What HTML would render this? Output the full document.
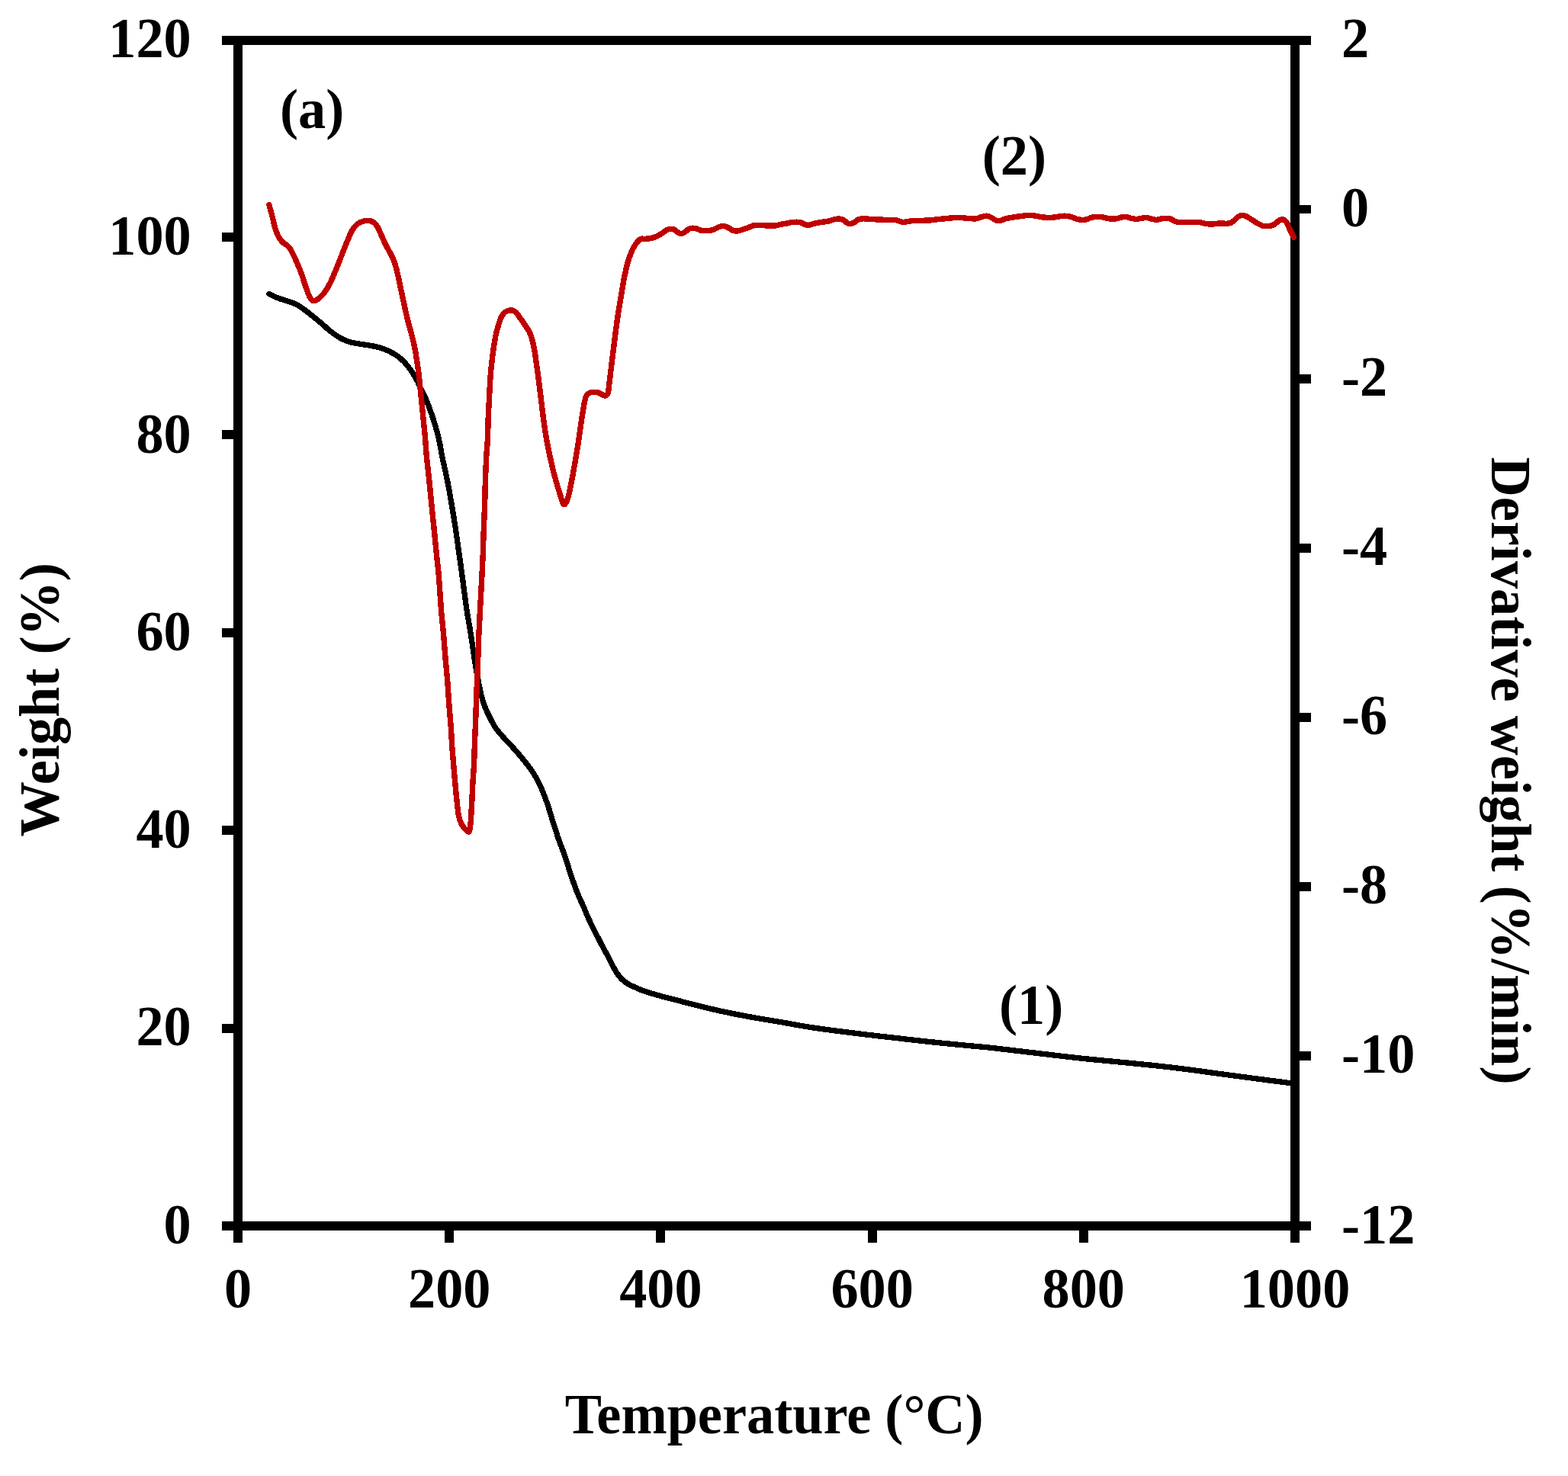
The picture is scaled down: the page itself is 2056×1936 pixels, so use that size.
<!DOCTYPE html>
<html lang="en">
<head>
<meta charset="utf-8">
<title>TGA and DTG curves</title>
<style>
html,body{margin:0;padding:0;background:#fff;}
body{width:2056px;height:1936px;overflow:hidden;}
svg{display:block;}
text{font-family:"Liberation Serif","DejaVu Serif",serif;font-weight:bold;font-kerning:normal;font-size:72.3px;fill:#000;}
.c1{stroke:#000;stroke-width:7.3;fill:none;stroke-linejoin:round;stroke-linecap:round;}
.c2{stroke:#c00000;stroke-width:7.4;fill:none;stroke-linejoin:round;stroke-linecap:round;}
</style>
</head>
<body>
<svg width="2056" height="1936" viewBox="0 0 2056 1936">
<rect x="0" y="0" width="2056" height="1936" fill="#ffffff"/>
<g fill="#000" shape-rendering="crispEdges">
<rect x="291" y="47" width="1428" height="12"/>
<rect x="291" y="1602" width="1428" height="12"/>
<rect x="306" y="47" width="12" height="1583"/>
<rect x="1692" y="47" width="12" height="1583"/>
<rect x="291" y="305" width="21" height="12"/>
<rect x="291" y="564" width="21" height="12"/>
<rect x="291" y="824" width="21" height="12"/>
<rect x="291" y="1083" width="21" height="12"/>
<rect x="291" y="1343" width="21" height="12"/>
<rect x="1698" y="269" width="21" height="11"/>
<rect x="1698" y="491" width="21" height="12"/>
<rect x="1698" y="713" width="21" height="12"/>
<rect x="1698" y="935" width="21" height="12"/>
<rect x="1698" y="1157" width="21" height="12"/>
<rect x="1698" y="1379" width="21" height="12"/>
<rect x="583" y="1608" width="12" height="22"/>
<rect x="860" y="1608" width="12" height="22"/>
<rect x="1138" y="1608" width="12" height="22"/>
<rect x="1415" y="1608" width="12" height="22"/>
</g>
<g shape-rendering="crispEdges">
<path class="c1" d="M352.9 385.5C354.5 386.3 359.4 388.9 362.7 390.3C366.0 391.7 369.4 392.6 372.8 393.7C376.2 394.8 379.9 395.8 382.8 396.9C385.7 398.0 387.9 398.9 390.4 400.3C392.9 401.7 395.4 403.6 397.9 405.4C400.4 407.2 402.6 408.7 405.5 411.0C408.4 413.3 412.1 416.4 415.5 419.2C418.9 422.0 422.8 425.3 425.6 427.8C428.5 430.3 429.3 431.5 432.6 434.0C435.9 436.5 441.0 440.4 445.2 442.8C449.4 445.2 453.5 447.0 457.7 448.4C461.9 449.8 466.1 450.2 470.3 450.9C474.5 451.6 478.7 452.1 482.9 452.8C487.1 453.5 491.3 454.2 495.5 455.3C499.7 456.4 503.8 457.8 508.0 459.7C512.2 461.6 516.8 464.1 520.6 466.7C524.4 469.3 527.6 472.1 530.7 475.5C533.9 478.9 536.8 482.8 539.5 486.8C542.2 490.8 544.9 495.3 547.0 499.3C549.1 503.3 550.5 506.7 552.4 510.7C554.3 514.7 556.5 519.0 558.3 523.2C560.1 527.4 561.6 531.2 563.3 535.8C565.0 540.4 566.8 545.6 568.5 550.9C570.2 556.1 571.9 562.1 573.3 567.3C574.7 572.5 575.7 576.8 576.8 582.3C577.9 587.8 578.3 591.8 580.0 600.0C581.7 608.2 584.7 620.9 586.8 631.4C588.9 641.9 590.6 652.4 592.4 662.9C594.2 673.4 595.9 683.8 597.5 694.3C599.1 704.8 600.4 715.3 601.9 725.8C603.4 736.3 604.6 744.8 606.3 757.2C608.0 769.6 610.3 788.7 612.0 800.0C613.7 811.3 614.9 816.8 616.3 825.2C617.6 833.6 618.8 841.9 620.1 850.3C621.4 858.7 622.6 868.0 623.9 875.5C625.1 883.0 626.4 889.3 627.6 895.6C628.9 901.9 630.0 908.0 631.4 913.2C632.8 918.4 634.0 922.4 635.8 927.0C637.6 931.6 639.7 936.1 642.1 940.8C644.5 945.5 647.0 950.6 650.0 955.0C653.0 959.4 656.8 963.3 660.1 967.1C663.5 970.9 666.8 974.0 670.1 977.7C673.5 981.4 676.9 985.3 680.2 989.2C683.6 993.1 687.2 997.4 690.2 1001.3C693.2 1005.2 695.8 1008.5 698.3 1012.4C700.8 1016.2 703.1 1020.2 705.3 1024.4C707.5 1028.6 709.5 1033.1 711.4 1037.5C713.2 1041.9 714.9 1046.4 716.4 1050.6C717.9 1054.8 719.1 1058.5 720.4 1062.7C721.7 1066.9 723.0 1071.5 724.4 1075.8C725.8 1080.1 727.1 1084.6 728.5 1088.8C729.9 1093.0 730.5 1095.3 732.5 1100.9C734.5 1106.5 738.3 1116.0 740.5 1122.2C742.7 1128.4 743.9 1133.1 745.6 1138.3C747.3 1143.5 748.9 1148.5 750.6 1153.4C752.3 1158.3 753.9 1163.2 755.6 1167.5C757.3 1171.8 759.0 1175.7 760.7 1179.5C762.4 1183.3 764.2 1187.1 765.7 1190.6C767.2 1194.1 768.4 1197.3 769.9 1200.7C771.4 1204.1 772.9 1207.4 774.5 1210.7C776.1 1214.0 777.7 1217.5 779.4 1220.8C781.1 1224.1 782.9 1227.4 784.6 1230.8C786.3 1234.2 787.5 1236.5 789.8 1240.9C792.1 1245.3 796.1 1252.2 798.6 1257.0C801.1 1261.8 803.2 1266.2 805.0 1269.6C806.8 1272.9 807.6 1274.6 809.4 1277.1C811.2 1279.6 813.4 1282.5 815.7 1284.7C818.0 1286.9 820.5 1288.6 823.2 1290.3C825.9 1292.0 828.4 1293.1 832.0 1294.7C835.6 1296.3 839.4 1298.2 844.6 1300.0C849.9 1301.8 856.2 1303.7 863.5 1305.7C870.8 1307.7 882.5 1310.6 888.6 1312.2C894.7 1313.8 891.4 1313.1 900.0 1315.2C908.6 1317.3 926.8 1322.1 940.2 1325.1C953.6 1328.1 967.1 1330.8 980.5 1333.3C993.9 1335.8 1007.3 1337.8 1020.7 1340.1C1034.1 1342.4 1047.6 1345.1 1061.0 1347.2C1074.4 1349.3 1087.8 1351.0 1101.2 1352.7C1114.6 1354.5 1128.0 1356.1 1141.4 1357.7C1154.8 1359.3 1168.3 1360.8 1181.7 1362.3C1195.1 1363.8 1208.5 1365.4 1221.9 1366.8C1235.3 1368.2 1249.2 1369.5 1262.2 1370.8C1275.2 1372.1 1283.6 1372.6 1300.0 1374.4C1316.4 1376.2 1340.3 1379.2 1360.4 1381.5C1380.5 1383.8 1400.6 1386.4 1420.7 1388.5C1440.8 1390.6 1461.0 1392.3 1481.1 1394.3C1501.2 1396.3 1521.3 1398.3 1541.4 1400.7C1561.5 1403.1 1581.7 1406.1 1601.8 1408.8C1621.9 1411.5 1647.1 1414.8 1662.2 1416.8C1677.3 1418.8 1686.6 1420.0 1692.4 1420.7C1698.2 1421.5 1696.2 1421.2 1697.0 1421.3"/>
<path class="c2" d="M352.9 268.7C353.6 271.2 355.7 278.9 357.0 284.0C358.3 289.1 359.4 294.7 360.8 299.1C362.2 303.5 363.6 307.4 365.2 310.4C366.8 313.4 368.0 315.1 370.2 317.3C372.4 319.5 376.1 321.0 378.4 323.6C380.7 326.2 382.1 329.2 384.1 333.1C386.1 337.0 388.5 342.5 390.4 346.9C392.3 351.3 393.7 354.9 395.4 359.5C397.1 364.1 398.7 369.8 400.4 374.6C402.1 379.4 404.0 385.2 405.5 388.4C407.0 391.6 407.9 392.7 409.2 393.7C410.4 394.7 411.5 394.8 413.0 394.4C414.5 394.0 415.9 393.3 418.0 391.5C420.1 389.7 423.1 386.8 425.6 383.4C428.1 379.9 430.6 375.8 433.1 370.8C435.6 365.8 438.2 359.3 440.7 353.2C443.2 347.1 445.7 340.6 448.2 334.3C450.7 328.0 453.4 320.9 455.7 315.5C458.0 310.1 459.9 305.2 462.0 301.6C464.1 298.0 466.0 296.0 468.3 294.1C470.6 292.2 473.4 291.1 475.9 290.3C478.4 289.5 481.1 289.2 483.4 289.4C485.7 289.6 487.8 290.3 489.7 291.6C491.6 292.9 493.0 294.5 494.7 297.2C496.4 299.9 497.9 303.8 499.8 307.9C501.7 312.0 504.0 317.5 506.1 321.7C508.2 325.9 510.4 329.3 512.3 333.1C514.2 336.9 515.9 340.2 517.4 344.4C518.9 348.6 519.9 353.0 521.1 358.2C522.4 363.4 523.6 369.9 524.9 375.8C526.2 381.7 527.4 387.5 528.7 393.4C530.0 399.3 531.2 405.6 532.5 411.0C533.8 416.4 535.0 421.7 536.2 426.1C537.4 430.6 538.2 432.6 539.5 437.7C540.8 442.8 542.6 450.3 543.9 456.6C545.1 462.9 546.1 469.2 547.0 475.5C547.9 481.8 548.8 488.0 549.5 494.3C550.2 500.6 550.8 506.9 551.4 513.2C552.0 519.5 552.7 525.7 553.3 532.0C553.9 538.3 554.6 544.6 555.2 550.9C555.8 557.2 556.6 564.1 557.1 569.8C557.6 575.5 557.9 579.9 558.3 584.9C558.7 589.9 558.7 592.2 559.5 600.0C560.3 607.8 561.8 620.9 562.9 631.4C564.0 641.9 565.0 652.4 566.0 662.9C567.0 673.4 568.2 683.8 569.2 694.3C570.2 704.8 571.2 715.3 572.3 725.8C573.3 736.3 574.5 744.8 575.5 757.2C576.5 769.6 577.5 787.6 578.5 800.0C579.5 812.4 580.6 820.9 581.5 831.4C582.4 841.9 583.1 852.4 584.0 862.9C584.9 873.4 586.0 883.8 586.8 894.3C587.6 904.8 588.2 915.3 589.0 925.8C589.8 936.3 590.9 948.2 591.5 957.2C592.1 966.2 592.2 972.0 592.8 980.0C593.4 988.0 594.2 996.8 594.9 1005.2C595.6 1013.6 596.4 1022.3 597.1 1030.3C597.8 1038.2 598.5 1046.2 599.3 1052.9C600.0 1059.6 600.6 1065.9 601.6 1070.5C602.6 1075.1 603.7 1077.9 605.0 1080.6C606.3 1083.3 608.0 1085.3 609.4 1086.9C610.8 1088.5 612.2 1089.8 613.2 1090.4C614.2 1091.0 614.9 1091.9 615.5 1090.3C616.1 1088.7 616.5 1085.4 617.0 1080.6C617.5 1075.8 617.8 1068.0 618.2 1061.7C618.6 1055.4 618.9 1049.2 619.2 1042.9C619.5 1036.6 619.7 1030.3 620.1 1024.0C620.5 1017.7 621.0 1012.5 621.4 1005.2C621.8 997.9 622.0 987.0 622.3 980.0C622.5 973.0 622.6 970.5 622.9 963.5C623.2 956.5 623.6 946.7 623.9 938.3C624.2 929.9 624.4 921.6 624.7 913.2C625.0 904.8 625.4 896.4 625.8 888.0C626.1 879.6 626.5 871.3 626.8 862.9C627.1 854.5 627.2 846.1 627.6 837.7C628.0 829.3 628.6 818.9 628.9 812.6C629.2 806.3 629.0 809.2 629.5 800.0C630.0 790.8 631.2 769.6 631.8 757.2C632.4 744.8 632.9 736.3 633.3 725.8C633.7 715.3 633.9 704.8 634.3 694.3C634.7 683.8 635.2 673.4 635.6 662.9C636.0 652.4 636.0 641.9 636.4 631.4C636.8 620.9 637.2 609.2 637.7 600.0C638.2 590.8 639.0 584.3 639.4 576.1C639.8 567.9 639.8 558.9 640.1 550.9C640.4 542.9 640.7 537.6 641.2 528.0C641.7 518.4 642.4 503.2 643.1 493.2C643.9 483.2 644.7 476.4 645.7 468.0C646.8 459.6 648.1 449.6 649.4 442.9C650.6 436.2 651.9 432.2 653.2 427.8C654.5 423.4 655.6 419.4 657.0 416.5C658.4 413.6 659.8 411.7 661.4 410.2C663.0 408.7 664.7 407.9 666.4 407.4C668.1 406.9 669.7 406.6 671.4 407.0C673.1 407.4 674.8 408.0 676.5 409.6C678.2 411.2 679.6 413.9 681.5 416.5C683.4 419.1 685.7 422.2 687.8 425.3C689.9 428.4 692.4 432.0 694.1 435.3C695.8 438.6 696.6 441.2 697.8 445.4C698.9 449.6 700.0 455.1 701.0 460.5C702.0 465.9 702.7 472.2 703.5 478.1C704.3 484.0 705.2 489.4 706.0 495.7C706.8 502.0 707.6 508.4 708.5 515.8C709.4 523.2 710.5 532.7 711.4 540.1C712.3 547.5 713.1 553.5 714.1 560.2C715.1 566.9 716.2 573.7 717.4 580.4C718.6 587.1 720.0 593.8 721.5 600.5C723.0 607.2 724.6 614.4 726.2 620.6C727.8 626.8 729.6 632.8 731.0 637.7C732.4 642.6 733.8 646.4 734.8 649.8C735.8 653.1 736.5 655.8 737.3 657.8C738.1 659.8 738.6 661.3 739.4 661.6C740.2 661.9 741.0 661.3 741.9 659.8C742.8 658.3 743.8 656.0 744.8 652.8C745.8 649.6 746.7 645.1 747.6 640.7C748.5 636.3 749.5 631.6 750.4 626.6C751.3 621.6 752.3 616.2 753.3 610.5C754.3 604.8 755.5 598.1 756.4 592.4C757.3 586.7 758.1 581.7 758.9 576.3C759.7 570.9 760.5 565.4 761.2 560.2C762.0 555.0 762.7 549.7 763.4 545.2C764.1 540.7 764.8 536.2 765.4 533.0C766.0 529.8 766.3 528.1 766.8 525.9C767.3 523.7 767.8 521.2 768.6 519.6C769.4 518.0 770.4 517.1 771.5 516.2C772.6 515.4 774.0 514.8 775.5 514.5C777.0 514.2 779.0 514.2 780.4 514.2C781.8 514.2 782.8 514.4 784.0 514.8C785.2 515.2 786.4 516.0 787.6 516.6C788.8 517.2 790.1 518.0 791.2 518.4C792.3 518.8 793.1 519.2 794.0 519.0C794.9 518.8 795.9 518.4 796.5 517.3C797.1 516.1 797.5 514.5 797.9 512.1C798.3 509.8 798.3 508.4 798.9 503.2C799.5 497.9 800.6 488.6 801.6 480.6C802.6 472.7 803.7 463.9 804.7 455.5C805.8 447.1 806.9 438.1 807.9 430.3C808.9 422.5 809.9 415.7 811.0 408.5C812.1 401.3 813.5 393.9 814.6 387.2C815.7 380.5 816.7 374.0 817.7 368.3C818.8 362.6 819.8 358.0 820.9 353.2C822.0 348.4 823.2 343.6 824.6 339.4C826.0 335.2 827.4 331.5 829.0 328.1C830.6 324.8 832.3 321.7 834.1 319.3C835.9 316.9 837.8 314.6 839.7 313.6C841.6 312.6 843.2 313.5 845.4 313.3C847.6 313.1 850.4 313.2 852.9 312.7C855.4 312.2 858.0 311.3 860.5 310.2C863.0 309.1 865.7 307.5 868.0 306.1C870.3 304.7 872.4 302.6 874.3 301.7C876.2 300.8 877.7 300.5 879.3 300.4C880.9 300.3 882.1 300.4 883.7 301.1C885.3 301.8 887.2 303.9 888.8 304.8C890.4 305.7 891.6 306.6 893.2 306.5C894.8 306.4 896.5 305.2 898.2 304.2C899.9 303.2 901.5 301.2 903.2 300.4C904.9 299.6 906.6 299.3 908.3 299.2C910.0 299.1 911.4 299.5 913.3 300.0C915.2 300.5 917.1 301.9 919.6 302.3C922.1 302.7 925.7 302.8 928.4 302.6C931.1 302.4 933.6 301.9 935.9 301.1C938.2 300.3 940.1 298.7 942.2 297.9C944.3 297.1 946.4 296.3 948.5 296.4C950.6 296.5 952.7 297.5 954.8 298.5C956.9 299.5 959.0 301.6 961.1 302.3C963.2 303.0 965.3 303.1 967.4 302.9C969.5 302.7 971.4 301.8 973.7 301.1C976.0 300.4 978.7 299.4 981.2 298.5C983.7 297.6 986.3 296.1 988.8 295.6C991.3 295.1 993.4 295.3 996.3 295.4C999.2 295.5 1003.0 295.9 1006.4 296.0C1009.8 296.1 1013.5 296.3 1016.4 296.0C1019.3 295.7 1021.7 294.8 1024.0 294.3C1026.3 293.9 1027.6 293.8 1030.1 293.3C1032.6 292.8 1035.8 291.8 1038.9 291.5C1042.0 291.2 1046.2 291.0 1048.9 291.5C1051.6 292.0 1053.3 293.7 1055.2 294.3C1057.1 294.9 1058.1 295.5 1060.2 295.3C1062.3 295.1 1065.1 293.8 1067.8 293.1C1070.5 292.5 1073.7 291.9 1076.6 291.4C1079.5 290.9 1082.5 290.9 1085.4 290.3C1088.3 289.7 1091.5 288.2 1094.2 287.7C1096.9 287.2 1099.6 286.8 1101.7 287.1C1103.8 287.4 1105.2 288.4 1106.8 289.3C1108.4 290.2 1109.7 292.1 1111.2 292.8C1112.7 293.5 1114.0 293.5 1115.6 293.3C1117.2 293.1 1118.9 292.4 1120.6 291.5C1122.3 290.6 1123.7 288.6 1125.6 287.8C1127.5 287.0 1129.4 286.9 1131.9 286.8C1134.4 286.7 1137.4 287.2 1140.7 287.4C1144.0 287.6 1148.0 287.8 1152.0 288.0C1156.0 288.2 1160.8 288.3 1164.6 288.4C1168.4 288.5 1172.2 288.4 1174.7 288.7C1177.2 289.0 1178.0 289.9 1179.7 290.3C1181.4 290.8 1182.8 291.4 1184.7 291.4C1186.6 291.4 1188.7 290.6 1191.0 290.3C1193.3 290.0 1195.7 289.7 1198.6 289.5C1201.5 289.3 1205.2 289.4 1208.6 289.3C1211.9 289.2 1215.3 289.2 1218.7 289.0C1222.1 288.8 1225.5 288.2 1228.8 287.8C1232.1 287.4 1235.4 287.1 1238.8 286.8C1242.2 286.5 1245.6 286.0 1248.9 285.8C1252.2 285.6 1255.4 285.3 1258.9 285.4C1262.4 285.5 1266.6 286.3 1270.1 286.5C1273.6 286.7 1277.2 287.2 1280.1 286.8C1283.0 286.4 1285.4 284.9 1287.7 284.3C1290.0 283.7 1291.9 283.0 1294.0 283.2C1296.1 283.4 1298.2 284.5 1300.2 285.5C1302.2 286.5 1304.0 288.3 1305.9 289.0C1307.8 289.7 1309.6 289.8 1311.6 289.5C1313.6 289.2 1315.3 287.7 1317.8 287.0C1320.3 286.3 1323.2 285.9 1326.6 285.3C1330.0 284.7 1334.4 284.1 1338.0 283.6C1341.6 283.1 1344.9 282.5 1348.0 282.4C1351.1 282.3 1353.6 282.6 1356.8 283.0C1360.0 283.4 1363.1 284.5 1366.9 284.9C1370.7 285.3 1375.9 285.4 1379.5 285.3C1383.1 285.2 1385.6 284.4 1388.3 284.0C1391.0 283.6 1393.1 283.1 1395.8 283.2C1398.5 283.3 1401.9 283.8 1404.6 284.5C1407.3 285.2 1409.9 286.8 1412.2 287.4C1414.5 288.0 1416.3 288.3 1418.4 288.4C1420.5 288.5 1422.6 288.3 1424.7 287.8C1426.8 287.3 1428.7 285.9 1431.0 285.3C1433.3 284.7 1436.1 284.4 1438.6 284.3C1441.1 284.2 1443.4 284.4 1446.1 284.9C1448.8 285.3 1452.0 286.7 1454.9 287.0C1457.8 287.3 1461.0 287.2 1463.7 286.8C1466.4 286.4 1469.2 285.3 1471.3 284.9C1473.4 284.5 1474.4 284.1 1476.3 284.3C1478.2 284.5 1480.3 285.6 1482.6 286.1C1484.9 286.6 1487.6 287.4 1490.1 287.4C1492.6 287.4 1495.4 286.4 1497.7 286.1C1500.0 285.8 1502.4 285.3 1504.0 285.4C1505.6 285.5 1505.5 286.0 1507.5 286.5C1509.5 287.0 1513.6 288.2 1516.3 288.3C1519.0 288.4 1521.2 287.1 1523.9 286.8C1526.6 286.5 1530.4 286.2 1532.7 286.5C1535.0 286.8 1535.9 287.9 1537.7 288.7C1539.5 289.5 1540.2 290.8 1543.4 291.2C1546.6 291.6 1551.9 291.3 1556.6 291.4C1561.3 291.4 1567.7 291.2 1571.7 291.5C1575.7 291.8 1577.8 292.9 1580.5 293.3C1583.2 293.7 1585.5 294.1 1588.0 294.1C1590.5 294.1 1593.3 293.5 1595.6 293.3C1597.9 293.1 1599.8 292.8 1601.9 292.8C1604.0 292.8 1606.0 293.4 1608.1 293.3C1610.2 293.2 1612.5 293.0 1614.4 292.1C1616.3 291.2 1617.8 289.4 1619.5 288.0C1621.2 286.6 1622.8 284.5 1624.5 283.6C1626.2 282.7 1627.8 282.3 1629.5 282.4C1631.2 282.5 1632.5 282.9 1634.6 284.0C1636.7 285.1 1639.6 287.1 1642.1 288.7C1644.6 290.2 1647.3 292.1 1649.6 293.3C1651.9 294.6 1653.6 295.7 1655.9 296.2C1658.2 296.7 1661.2 296.7 1663.5 296.5C1665.8 296.3 1667.9 295.8 1669.8 294.9C1671.7 294.0 1673.3 292.3 1674.8 291.2C1676.3 290.1 1677.1 288.9 1678.6 288.4C1680.1 287.9 1682.1 287.7 1683.6 288.4C1685.1 289.1 1686.2 290.4 1687.4 292.4C1688.7 294.4 1689.9 298.1 1691.1 300.6C1692.3 303.2 1693.7 305.9 1694.6 307.7C1695.5 309.5 1696.1 310.7 1696.4 311.3"/>
</g>
<text transform="translate(250.7 75.0) scale(1.000 1.025)" text-anchor="end">120</text>
<text transform="translate(250.7 334.0) scale(1.000 1.025)" text-anchor="end">100</text>
<text transform="translate(250.7 593.5) scale(1.000 1.025)" text-anchor="end">80</text>
<text transform="translate(250.7 852.8) scale(1.000 1.025)" text-anchor="end">60</text>
<text transform="translate(250.7 1111.5) scale(1.000 1.025)" text-anchor="end">40</text>
<text transform="translate(250.7 1370.7) scale(1.000 1.025)" text-anchor="end">20</text>
<text transform="translate(250.7 1631.0) scale(1.000 1.025)" text-anchor="end">0</text>
<text transform="translate(1759.0 75.0) scale(1.000 1.025)">2</text>
<text transform="translate(1759.0 297.0) scale(1.000 1.025)">0</text>
<text transform="translate(1759.0 519.0) scale(1.000 1.025)">-2</text>
<text transform="translate(1759.0 741.0) scale(1.000 1.025)">-4</text>
<text transform="translate(1759.0 963.0) scale(1.000 1.025)">-6</text>
<text transform="translate(1759.0 1185.0) scale(1.000 1.025)">-8</text>
<text transform="translate(1759.0 1407.0) scale(1.000 1.025)">-10</text>
<text transform="translate(1759.0 1631.0) scale(1.000 1.025)">-12</text>
<text transform="translate(312.0 1715.0) scale(1.000 1.025)" text-anchor="middle">0</text>
<text transform="translate(589.2 1715.0) scale(1.000 1.025)" text-anchor="middle">200</text>
<text transform="translate(866.4 1715.0) scale(1.000 1.025)" text-anchor="middle">400</text>
<text transform="translate(1143.6 1715.0) scale(1.000 1.025)" text-anchor="middle">600</text>
<text transform="translate(1420.8 1715.0) scale(1.000 1.025)" text-anchor="middle">800</text>
<text transform="translate(1698.0 1715.0) scale(1.000 1.025)" text-anchor="middle">1000</text>
<text transform="translate(1015.2 1880.0) scale(1.000 1.012)" text-anchor="middle">Temperature (°C)</text>
<text transform="translate(76.8 917.8) rotate(-90) scale(1.000 1.012)" text-anchor="middle">Weight (%)</text>
<text transform="translate(1956.0 1011.0) rotate(90) scale(1.000 1.012)" text-anchor="middle">Derivative weight (%/min)</text>
<text transform="translate(367.0 168.0) scale(1.000 1.012)">(a)</text>
<text transform="translate(1287.8 229.0) scale(1.000 1.012)">(2)</text>
<text transform="translate(1310.0 1343.0) scale(1.000 1.012)">(1)</text>
</svg>
</body>
</html>
